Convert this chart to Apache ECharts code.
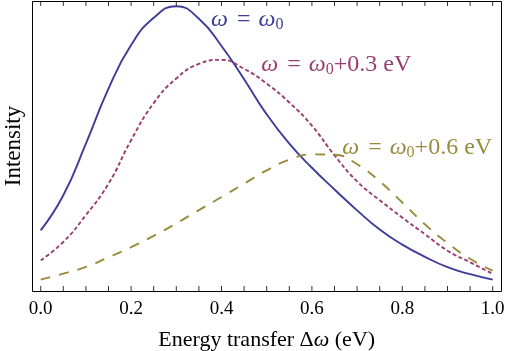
<!DOCTYPE html>
<html>
<head>
<meta charset="utf-8">
<script src="https://cdn.jsdelivr.net/npm/echarts@6/dist/echarts.min.js"></script>
<style>
  html, body { margin: 0; padding: 0; background: #fff; }
  #chart { width: 507px; height: 351px; }
</style>
</head>
<body>
<div id="chart"></div>
<script>
// energy transfer values (eV), sampled every 0.05
var energy = [0.00, 0.05, 0.10, 0.15, 0.20, 0.25, 0.30, 0.35, 0.40, 0.45, 0.50,
              0.55, 0.60, 0.65, 0.70, 0.75, 0.80, 0.85, 0.90, 0.95, 1.00];
// intensity (arbitrary units)
var intensityW0 = [0.209, 0.330, 0.508, 0.698, 0.848, 0.942, 0.982, 0.939, 0.845, 0.730, 0.609,
                   0.508, 0.425, 0.350, 0.278, 0.212, 0.160, 0.118, 0.082, 0.058, 0.039];
var intensityW03 = [0.106, 0.169, 0.262, 0.370, 0.520, 0.648, 0.733, 0.783, 0.797, 0.766, 0.715,
                    0.650, 0.570, 0.468, 0.378, 0.313, 0.253, 0.196, 0.139, 0.099, 0.059];
var intensityW06 = [0.039, 0.060, 0.083, 0.116, 0.151, 0.190, 0.233, 0.279, 0.324, 0.370, 0.416,
                    0.453, 0.471, 0.470, 0.437, 0.378, 0.305, 0.230, 0.165, 0.111, 0.070];
var tickLabels = ['0.0', '0.2', '0.4', '0.6', '0.8', '1.0'];
var tickValues = [0, 0.05, 0.1, 0.15, 0.2, 0.25, 0.3, 0.35, 0.4, 0.45, 0.5,
                  0.55, 0.6, 0.65, 0.7, 0.75, 0.8, 0.85, 0.9, 0.95, 1.0];
var labelText = ['{i|ω}{e|=}{i|ω}{s|0}',
                 '{i|ω}{e|=}{i|ω}{s|0}+0.3 eV',
                 '{i|ω}{e|=}{i|ω}{s|0}+0.6 eV'];
// where each curve label starts (data coords)
var labelAt = [[0.377, 0.936], [0.488, 0.781], [0.667, 0.494]];
// plot frame, a little wider than the data (data coords)
var frameX = [-0.02, 1.018];

var serif = 'Liberation Serif';
var blue = '#3d3d99', maroon = '#993d71', olive = '#998b3d';

function pairs(ys) {
    return energy.map(function (x, i) { return [x, ys[i]]; });
}

function curveLabel(i, color) {
    return {
        symbol: 'circle',
        symbolSize: 0,
        silent: true,
        data: [{ coord: labelAt[i] }],
        label: {
            show: true,
            position: 'right',
            distance: 0,
            formatter: labelText[i],
            color: color,
            fontFamily: serif,
            fontSize: 24,
            lineHeight: 26,
            rich: {
                i: { fontStyle: 'italic', fontFamily: serif, fontSize: 24, lineHeight: 26, color: color },
                e: { fontFamily: serif, fontSize: 24, lineHeight: 26, padding: [0, 8, 0, 9], color: color },
                s: { fontFamily: serif, fontSize: 16, lineHeight: 16, verticalAlign: 'bottom', color: color }
            }
        }
    };
}

// little inward tick marks along the bottom (y=0) or top (y=1) edge
function tickMarks(yEdge, offset) {
    return {
        type: 'scatter',
        silent: true,
        clip: false,
        data: tickValues.map(function (v) { return [v, yEdge]; }),
        symbol: 'rect',
        symbolSize: [1, 5],
        symbolOffset: [0, offset],
        itemStyle: { color: '#000' },
        z: 5
    };
}

var chart = echarts.init(document.getElementById('chart'));

function tickAxis(pos) {
    return {
        type: 'value',
        position: pos,
        min: 0,
        max: 1,
        interval: 0.2,
        axisLine: { show: true, onZero: false, lineStyle: { color: '#000', width: 1 } },
        axisTick: { show: false },
        splitLine: { show: false }
    };
}

var option = {
    animation: false,
    backgroundColor: '#fff',
    tooltip: { show: false },
    grid: { left: 40.7, right: 14.3, top: 1, bottom: 60, outerBoundsMode: 'none' },
    xAxis: [
        Object.assign(tickAxis('bottom'), {
            axisLabel: {
                formatter: function (v) { return tickLabels[Math.round(v / 0.2)]; },
                fontFamily: serif, fontSize: 19, color: '#000', margin: 9
            },
            name: 'Energy transfer Δ{i|ω} (eV)',
            nameLocation: 'middle',
            nameGap: 38,
            nameTextStyle: {
                fontFamily: serif, fontSize: 22, color: '#000',
                rich: { i: { fontStyle: 'italic', fontFamily: serif, fontSize: 22, color: '#000' } }
            }
        }),
        Object.assign(tickAxis('top'), { axisLabel: { show: false } })
    ],
    yAxis: {
        type: 'value',
        min: 0,
        max: 1,
        axisLine: { show: false },
        axisTick: { show: false },
        axisLabel: { show: false },
        splitLine: { show: false },
        name: 'Intensity',
        nameLocation: 'middle',
        nameGap: 15,
        nameTextStyle: { fontFamily: serif, fontSize: 23, color: '#000' }
    },
    series: [
        {
            type: 'line', data: pairs(intensityW0),
            showSymbol: false, smooth: true,
            lineStyle: { color: blue, width: 1.9 },
            markPoint: curveLabel(0, blue)
        },
        {
            type: 'line', data: pairs(intensityW03),
            showSymbol: false, smooth: true,
            lineStyle: { color: maroon, width: 1.9, type: [4, 2.5] },
            markPoint: curveLabel(1, maroon)
        },
        {
            type: 'line', data: pairs(intensityW06),
            showSymbol: false, smooth: true,
            lineStyle: { color: olive, width: 1.9, type: [10, 9] },
            markPoint: curveLabel(2, olive)
        },
        tickMarks(0, -2.5),
        tickMarks(1, 2.5)
    ]
};

chart.setOption(option);

// outer frame box from the axis scale
var tl = chart.convertToPixel({ gridIndex: 0 }, [frameX[0], 1]);
var br = chart.convertToPixel({ gridIndex: 0 }, [frameX[1], 0]);
var fx = Math.round(tl[0]) + 0.5, fy = Math.round(tl[1]) + 0.5;
chart.setOption({
    graphic: [{
        type: 'rect',
        silent: true,
        z: 10,
        shape: { x: fx, y: fy, width: Math.round(br[0]) - Math.round(tl[0]), height: Math.round(br[1]) - Math.round(tl[1]) },
        style: { fill: 'none', stroke: '#000', lineWidth: 1 }
    }]
});
</script>
</body>
</html>
